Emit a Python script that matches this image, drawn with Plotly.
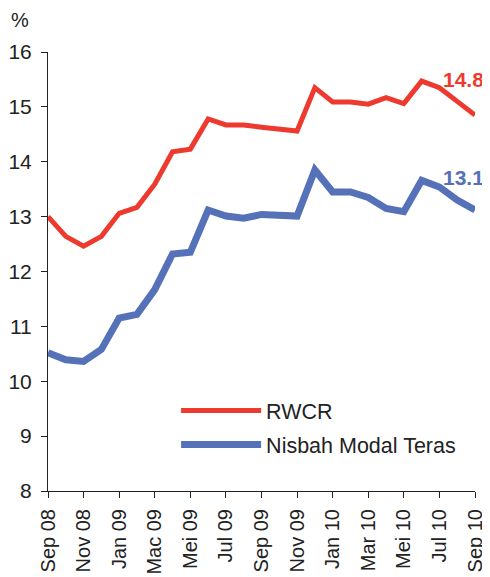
import plotly.graph_objects as go

months = ["Sep 08", "Okt 08", "Nov 08", "Dis 08", "Jan 09", "Feb 09", "Mac 09", "Apr 09",
          "Mei 09", "Jun 09", "Jul 09", "Ogo 09", "Sep 09", "Okt 09", "Nov 09", "Dis 09",
          "Jan 10", "Feb 10", "Mac 10", "Apr 10", "Mei 10", "Jun 10", "Jul 10", "Ogo 10", "Sep 10"]
tick_labels = ["Sep 08", "Nov 08", "Jan 09", "Mac 09", "Mei 09", "Jul 09", "Sep 09",
               "Nov 09", "Jan 10", "Mar 10", "Mei 10", "Jul 10", "Sep 10"]

rwcr = [13.0, 12.64, 12.46, 12.64, 13.06, 13.17, 13.59, 14.18, 14.23, 14.78, 14.67, 14.67,
        14.63, 14.60, 14.56, 15.35, 15.09, 15.09, 15.05, 15.17, 15.06, 15.47, 15.35, 15.10, 14.85]
core = [10.52, 10.39, 10.36, 10.58, 11.15, 11.22, 11.67, 12.32, 12.35, 13.12, 13.01, 12.97,
        13.04, 13.01, 13.01, 13.85, 13.45, 13.45, 13.35, 13.15, 13.09, 13.66, 13.54, 13.30, 13.12]

red = "#ee3a2e"
blue = "#5571b8"

x = list(range(len(months)))

fig = go.Figure()
fig.add_trace(go.Scatter(x=x, y=rwcr, mode="lines", name="RWCR", legendgroup="a",
                         line=dict(color=red, width=5), hoverinfo="skip"))
fig.add_trace(go.Scatter(x=x, y=core, mode="lines", name="Nisbah Modal Teras", legendgroup="b",
                         line=dict(color=blue, width=7), hoverinfo="skip"))

# end-of-series labels
fig.add_annotation(x=23.35, y=15.49, text="<b>14.8</b>", showarrow=False,
                   xanchor="center", yanchor="middle", font=dict(color=red, size=21))
fig.add_annotation(x=23.35, y=13.72, text="<b>13.1</b>", showarrow=False,
                   xanchor="center", yanchor="middle", font=dict(color=blue, size=21))
fig.add_annotation(xref="paper", yref="paper", x=-0.066, y=1.072, text="%",
                   xanchor="center", yanchor="middle",
                   showarrow=False, font=dict(size=20, color="#222"))

# page body has an 8px margin, so the figure is 8px smaller than the window
fig.update_layout(
    width=482, height=569,
    margin=dict(l=40, r=15, t=44, b=86),
    paper_bgcolor="white", plot_bgcolor="white",
    font=dict(family="Liberation Sans, Arial, sans-serif", color="#222"),
    showlegend=True,
    legend=dict(x=0.30, y=0.230, xanchor="left", yanchor="top",
                font=dict(size=21.5), itemwidth=80, tracegroupgap=3,
                bgcolor="rgba(0,0,0,0)"),
)
fig.update_xaxes(range=[0, 24], tickmode="array", tickvals=x[::2], ticktext=tick_labels,
                 tickangle=-90, ticks="outside", ticklen=6, tickcolor="#222",
                 showline=True, linecolor="#222", linewidth=1, showgrid=False,
                 zeroline=False, tickfont=dict(size=20), ticklabelstandoff=3,
                 automargin=False)
fig.update_yaxes(range=[8, 16], dtick=1, ticks="outside", ticklen=6, tickcolor="#222",
                 showline=True, linecolor="#222", linewidth=1, showgrid=False,
                 zeroline=False, tickfont=dict(size=21), ticklabelstandoff=5,
                 automargin=False)

fig.write_html("out.html")
